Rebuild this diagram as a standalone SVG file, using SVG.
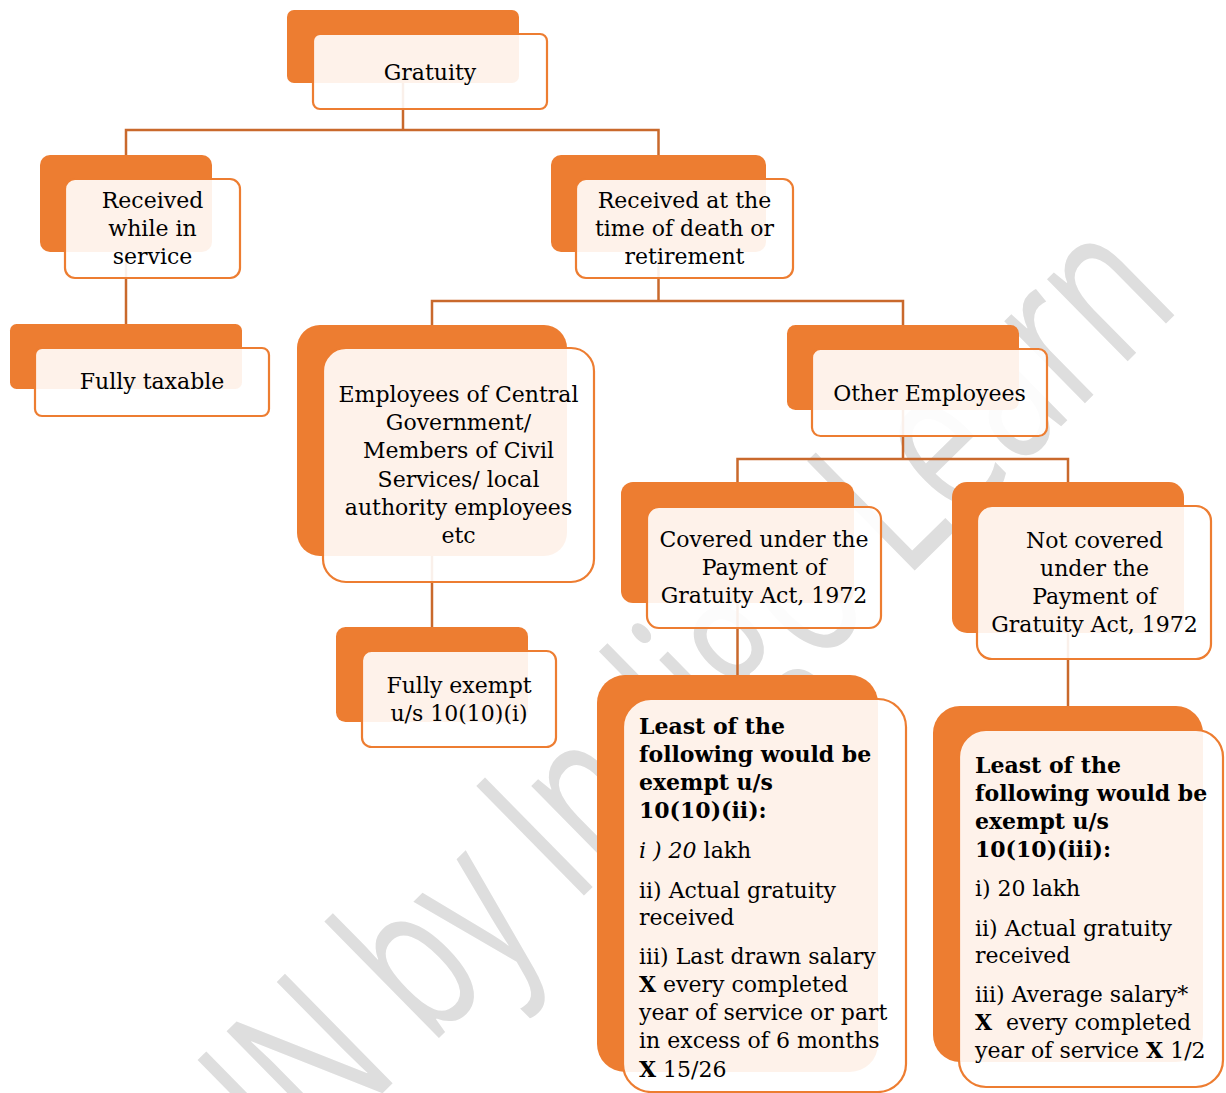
<svg xmlns="http://www.w3.org/2000/svg" width="1226" height="1093" viewBox="0 0 1226 1093">
  <style>
    .bk { fill: #ED7D31; }
    .fr { fill: #FFFFFF; fill-opacity: 0.9; stroke: #ED7D31; stroke-width: 2.2; }
    .t { font-family: "DejaVu Serif", "Liberation Serif", serif; font-size: 22px; fill: #000000; }
    .c { text-anchor: middle; }
    .b { font-weight: bold; }
    .i { font-style: italic; }
    .cn { fill: none; stroke: #C9692C; stroke-width: 2.5; }
    .wm { font-family: "Open Sans", "DejaVu Sans", sans-serif; font-size: 215px; font-weight: 500; fill: #DEDEDE; }
  </style>

  <rect width="1226" height="1093" fill="#FFFFFF"/>

  <!-- background watermark -->
  <text class="wm" transform="translate(294.9,1179.5) rotate(-44.5)" x="0" y="0" textLength="1245" lengthAdjust="spacingAndGlyphs">IN by Indigo Learn</text>

  <!-- connectors (drawn beneath the translucent boxes) -->
  <g id="connectors" class="cn">
    <path d="M403 83 V130"/>
    <path d="M126 155 V130 H658.5 V155"/>
    <path d="M126 252 V324"/>
    <path d="M658.5 252 V301"/>
    <path d="M432 325 V301 H903 V325"/>
    <path d="M432 556 V627"/>
    <path d="M903 410 V459"/>
    <path d="M737.5 482 V459 H1068 V482"/>
    <path d="M737.5 603 V675"/>
    <path d="M1068 633 V706"/>
  </g>

  <g id="gratuity">
    <rect class="bk" x="287" y="10" width="232" height="73" rx="7"/>
    <rect class="fr" x="313" y="34" width="234" height="75" rx="7"/>
    <text class="t c" x="430" y="80">Gratuity</text>
  </g>

  <g id="received-in-service">
    <rect class="bk" x="40" y="155" width="172" height="97" rx="10"/>
    <rect class="fr" x="65" y="179" width="175" height="99" rx="10"/>
    <text class="t c" x="152.5" y="208">Received</text>
    <text class="t c" x="152.5" y="236">while in</text>
    <text class="t c" x="152.5" y="264">service</text>
  </g>

  <g id="fully-taxable">
    <rect class="bk" x="10" y="324" width="232" height="65" rx="6.5"/>
    <rect class="fr" x="35" y="348" width="234" height="68" rx="7"/>
    <text class="t c" x="152" y="389">Fully taxable</text>
  </g>

  <g id="received-death-retirement">
    <rect class="bk" x="551" y="155" width="215" height="97" rx="10"/>
    <rect class="fr" x="576" y="179" width="217" height="99" rx="10"/>
    <text class="t c" x="684.5" y="208">Received at the</text>
    <text class="t c" x="684.5" y="236">time of death or</text>
    <text class="t c" x="684.5" y="264">retirement</text>
  </g>

  <g id="central-govt-employees">
    <rect class="bk" x="297" y="325" width="270" height="231" rx="23"/>
    <rect class="fr" x="323" y="348" width="271" height="234" rx="23"/>
    <text class="t c" x="458.5" y="402">Employees of Central</text>
    <text class="t c" x="458.5" y="430">Government/</text>
    <text class="t c" x="458.5" y="458">Members of Civil</text>
    <text class="t c" x="458.5" y="487">Services/ local</text>
    <text class="t c" x="458.5" y="515">authority employees</text>
    <text class="t c" x="458.5" y="543">etc</text>
  </g>

  <g id="other-employees">
    <rect class="bk" x="787" y="325" width="232" height="85" rx="8.5"/>
    <rect class="fr" x="812" y="349" width="235" height="87" rx="8.5"/>
    <text class="t c" x="929.5" y="401">Other Employees</text>
  </g>

  <g id="fully-exempt">
    <rect class="bk" x="336" y="627" width="192" height="95" rx="9.5"/>
    <rect class="fr" x="362" y="651" width="194" height="96" rx="9.6"/>
    <text class="t c" x="459" y="693">Fully exempt</text>
    <text class="t c" x="459" y="721">u/s 10(10)(i)</text>
  </g>

  <g id="covered-act">
    <rect class="bk" x="621" y="482" width="233" height="121" rx="12"/>
    <rect class="fr" x="647" y="507" width="234" height="121" rx="12"/>
    <text class="t c" x="764" y="547">Covered under the</text>
    <text class="t c" x="764" y="575">Payment of</text>
    <text class="t c" x="764" y="603">Gratuity Act, 1972</text>
  </g>

  <g id="not-covered-act">
    <rect class="bk" x="952" y="482" width="232" height="151" rx="15"/>
    <rect class="fr" x="977" y="506" width="234" height="153" rx="15"/>
    <text class="t c" x="1094.5" y="548">Not covered</text>
    <text class="t c" x="1094.5" y="576">under the</text>
    <text class="t c" x="1094.5" y="604">Payment of</text>
    <text class="t c" x="1094.5" y="632">Gratuity Act, 1972</text>
  </g>

  <g id="exemption-10-10-ii">
    <rect class="bk" x="597" y="675" width="281" height="397" rx="28"/>
    <rect class="fr" x="623" y="699" width="283" height="393" rx="28"/>
    <text class="t b" x="639" y="734">Least of the</text>
    <text class="t b" x="639" y="762">following would be</text>
    <text class="t b" x="639" y="790">exempt u/s</text>
    <text class="t b" x="639" y="818">10(10)(ii):</text>
    <text class="t" x="639" y="858"><tspan class="i">i ) 20</tspan> lakh</text>
    <text class="t" x="639" y="898">ii) Actual gratuity</text>
    <text class="t" x="639" y="925">received</text>
    <text class="t" x="639" y="964">iii) Last drawn salary</text>
    <text class="t" x="639" y="992"><tspan class="b">X</tspan> every completed</text>
    <text class="t" x="639" y="1020">year of service or part</text>
    <text class="t" x="639" y="1048">in excess of 6 months</text>
    <text class="t" x="639" y="1077"><tspan class="b">X</tspan> 15/26</text>
  </g>

  <g id="exemption-10-10-iii">
    <rect class="bk" x="933" y="706" width="270" height="356" rx="27"/>
    <rect class="fr" x="959" y="730" width="264" height="357" rx="27"/>
    <text class="t b" x="975" y="773">Least of the</text>
    <text class="t b" x="975" y="801">following would be</text>
    <text class="t b" x="975" y="829">exempt u/s</text>
    <text class="t b" x="975" y="857">10(10)(iii):</text>
    <text class="t" x="975" y="896">i) 20 lakh</text>
    <text class="t" x="975" y="936">ii) Actual gratuity</text>
    <text class="t" x="975" y="963">received</text>
    <text class="t" x="975" y="1002">iii) Average salary*</text>
    <text class="t" x="975" y="1030" xml:space="preserve"><tspan class="b">X</tspan>  every completed</text>
    <text class="t" x="975" y="1058">year of service <tspan class="b">X</tspan> 1/2</text>
  </g>
</svg>
